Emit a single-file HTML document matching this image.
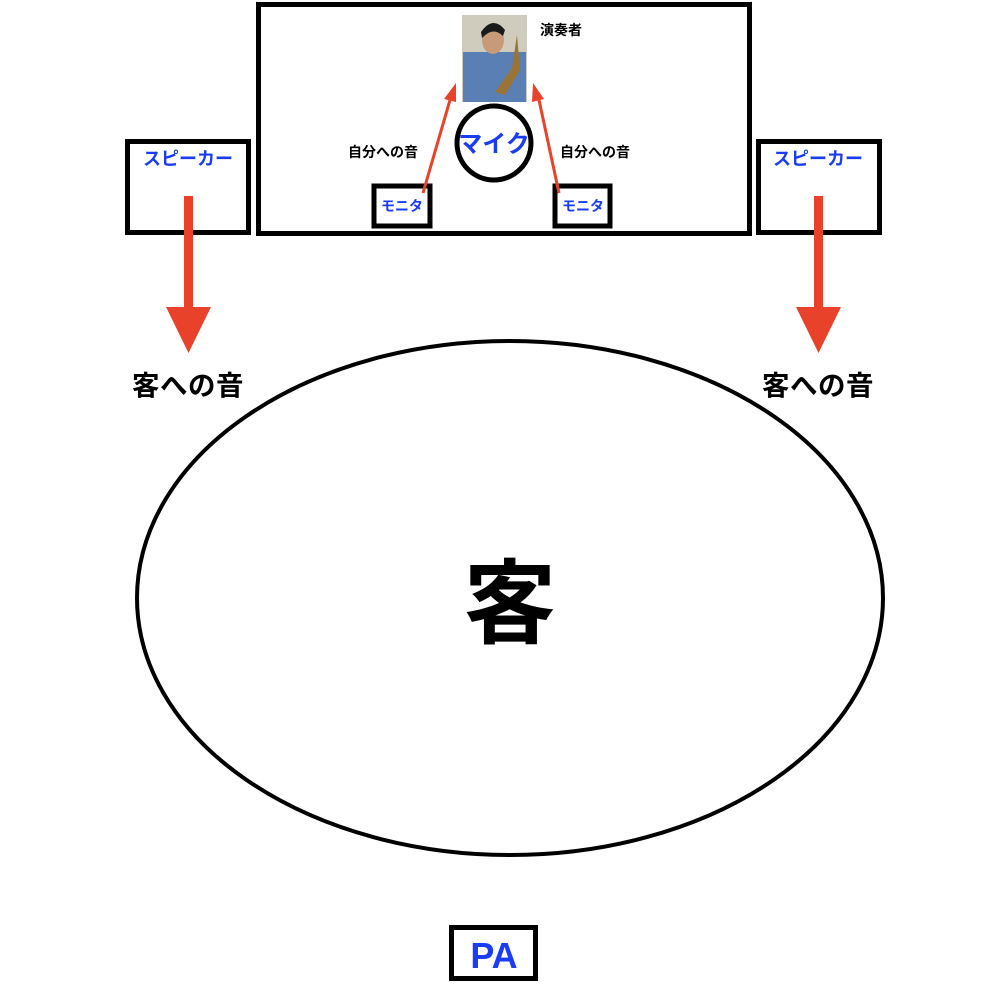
<!DOCTYPE html>
<html><head><meta charset="utf-8"><style>
html,body{margin:0;padding:0;background:#fff}
svg{display:block}
text{font-family:"Liberation Sans","Noto Sans CJK JP",sans-serif;font-weight:bold}
</style></head><body>
<svg width="1000" height="1000" viewBox="0 0 1000 1000" xmlns="http://www.w3.org/2000/svg">
<rect x="258.5" y="4.5" width="491" height="229" fill="#fff" stroke="#000" stroke-width="5"/>
<rect x="127.5" y="141.5" width="121" height="91" fill="#fff" stroke="#000" stroke-width="5"/>
<rect x="758.5" y="141.5" width="121" height="91" fill="#fff" stroke="#000" stroke-width="5"/>
<text x="188" y="165" font-size="18" fill="#1a3cf5" text-anchor="middle">スピーカー</text>
<text x="818" y="165" font-size="18" fill="#1a3cf5" text-anchor="middle">スピーカー</text>
<rect x="184" y="196" width="9" height="112" fill="#e8432a"/>
<polygon points="166,307 211,307 188.5,353" fill="#e8432a"/>
<rect x="814" y="196" width="9" height="112" fill="#e8432a"/>
<polygon points="796,307 841,307 818.5,353" fill="#e8432a"/>
<text x="188" y="395" font-size="27.5" fill="#000" text-anchor="middle" letter-spacing="0.5">客への音</text>
<text x="818" y="395" font-size="27.5" fill="#000" text-anchor="middle" letter-spacing="0.5">客への音</text>
<!-- photo -->
<rect x="462" y="15" width="65" height="87" fill="#cfcbbd"/>
<rect x="463" y="52" width="63" height="50" fill="#5a7fb5"/>
<ellipse cx="493" cy="40" rx="11" ry="14" fill="#c79a7a"/>
<path d="M481 32 Q493 15 505 30 L503 36 Q493 26 482 38 Z" fill="#1a1a1a"/>
<path d="M517 35 L520 70 L505 95 L495 92 L512 68 Z" fill="#9a7435"/>
<text x="540" y="35" font-size="14" fill="#000">演奏者</text>
<circle cx="494" cy="143" r="37" fill="#fff" stroke="#000" stroke-width="5"/>
<text x="494" y="152" font-size="24" fill="#1a3cf5" text-anchor="middle">マイク</text>
<text x="348" y="157" font-size="14" fill="#000">自分への音</text>
<text x="560" y="157" font-size="14" fill="#000">自分への音</text>
<rect x="374" y="186" width="56" height="40" fill="#fff" stroke="#000" stroke-width="5"/>
<rect x="555" y="186" width="55" height="40" fill="#fff" stroke="#000" stroke-width="5"/>
<text x="402" y="211" font-size="14" fill="#1a3cf5" text-anchor="middle">モニタ</text>
<text x="583" y="211" font-size="14" fill="#1a3cf5" text-anchor="middle">モニタ</text>
<line x1="423" y1="193" x2="450" y2="100" stroke="#e8432a" stroke-width="3"/>
<polygon points="456,83 444,99 456,102" fill="#e8432a"/>
<line x1="559" y1="193" x2="539" y2="100" stroke="#e8432a" stroke-width="3"/>
<polygon points="533,83 532,102 544,99" fill="#e8432a"/>
<ellipse cx="510" cy="598" rx="373" ry="257" fill="none" stroke="#000" stroke-width="4"/>
<text x="510" y="636" font-size="92" fill="#000" text-anchor="middle">客</text>
<rect x="451.5" y="927.5" width="84" height="51" fill="#fff" stroke="#000" stroke-width="5"/>
<text x="494" y="968" font-size="36" fill="#1a3cf5" text-anchor="middle">PA</text>
</svg>
</body></html>
